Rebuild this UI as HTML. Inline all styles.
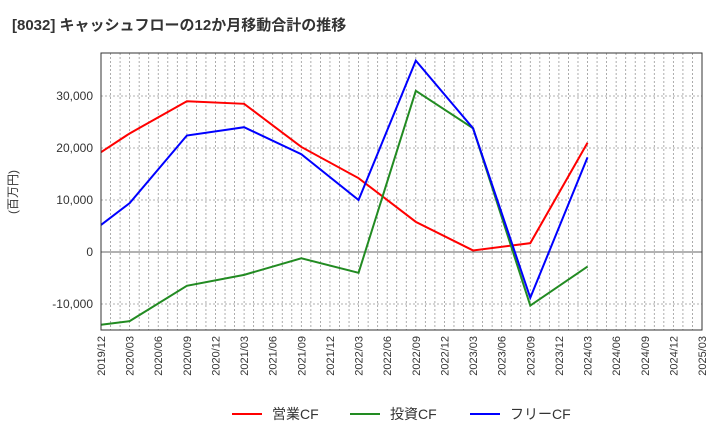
<!DOCTYPE html>
<html><head><meta charset="utf-8"><style>
body{margin:0;background:#fff;font-family:"Liberation Sans","Noto Sans CJK JP",sans-serif;}
svg text{font-family:"Liberation Sans","Noto Sans CJK JP",sans-serif;}
</style></head><body>
<svg id="c" width="720" height="440">
<text x="12" y="30" font-size="15" font-weight="bold" fill="#333">[8032]  キャッシュフローの12か月移動合計の推移</text>
<text transform="translate(17,192) rotate(-90)" text-anchor="middle" font-size="12" fill="#333">(百万円)</text>
<g id="grid"></g><g id="series"></g><g id="axes"></g>
<g>
<line x1="232" y1="414" x2="262" y2="414" stroke="#f00" stroke-width="2"/>
<text x="272" y="419" font-size="14" fill="#333">営業CF</text>
<line x1="350" y1="414" x2="380" y2="414" stroke="#228b22" stroke-width="2"/>
<text x="390" y="419" font-size="14" fill="#333">投資CF</text>
<line x1="470" y1="414" x2="500" y2="414" stroke="#00f" stroke-width="2"/>
<text x="510" y="419" font-size="14" fill="#333">フリーCF</text>
</g>
</svg>
<script>
const categories=["2019/12","2020/03","2020/06","2020/09","2020/12","2021/03","2021/06","2021/09","2021/12","2022/03","2022/06","2022/09","2022/12","2023/03","2023/06","2023/09","2023/12","2024/03","2024/06","2024/09","2024/12","2025/03"];
const pointIdx=[0,1,3,5,7,9,11,13,15,17];
const operatingCF=[19200,22800,29000,28500,20200,14200,5800,300,1700,21000];
const investingCF=[-14000,-13300,-6500,-4400,-1200,-4000,31000,23800,-10300,-2800];
const freeCF=[5200,9400,22400,24000,18800,10000,36800,23800,-8800,18200];
const yTicks=[-10000,0,10000,20000,30000];
const yMin=-15000,yMax=38270;
const L=101,R=702,T=53,B=330;
const NS="http://www.w3.org/2000/svg";
const x=i=>L+(R-L)*i/(categories.length-1);
const y=v=>B-(B-T)*(v-yMin)/(yMax-yMin);
function mk(tag,attrs,parent){const e=document.createElementNS(NS,tag);for(const k in attrs)e.setAttribute(k,attrs[k]);document.getElementById(parent).appendChild(e);return e;}
// monthly vertical grid
for(let m=0;m<=63;m++){const xx=L+(R-L)*m/63;const g=mk('line',{x1:xx,x2:xx,y1:T,y2:B,stroke:'#999','stroke-width':0.8,'stroke-dasharray':'2,2'},'grid');

}
yTicks.forEach(v=>{const g=mk('line',{x1:L,x2:R,y1:y(v),y2:y(v),stroke:v===0?'#666':'#999','stroke-width':v===0?1:0.8,'stroke-dasharray':v===0?'':'2,2'},'grid');


const t=mk('text',{x:L-8,y:y(v)+4,'text-anchor':'end','font-size':12,fill:'#333'},'axes');t.textContent=v.toLocaleString('en-US');

});
const fr=mk('rect',{x:L,y:T,width:R-L,height:B-T,fill:'none',stroke:'#333','stroke-width':1},'axes');


categories.forEach((c,i)=>{const t=mk('text',{transform:`translate(${x(i)+4},${B+6}) rotate(-90)`,'text-anchor':'end','font-size':11,fill:'#333'},'axes');t.textContent=c;

});
[[operatingCF,'#f00','operating-cf-line'],[investingCF,'#228b22','investing-cf-line'],[freeCF,'#00f','free-cf-line']].forEach(([d,col,n])=>{
const p=mk('polyline',{points:d.map((v,k)=>x(pointIdx[k])+','+y(v)).join(' '),fill:'none',stroke:col,'stroke-width':2},'series');

});
</script>
</body></html>
